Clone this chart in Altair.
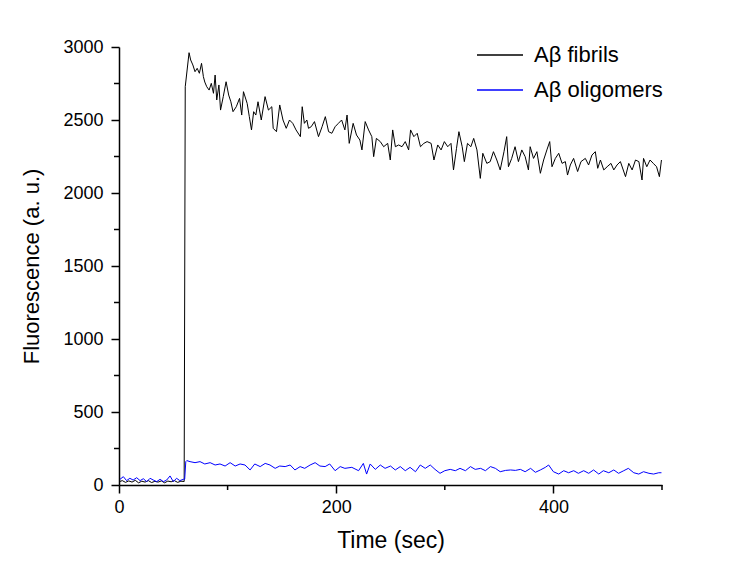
import altair as alt
import pandas as pd

# ---- data ----
fib_t = [0, 3, 6, 9, 12, 15, 18, 21, 24, 27, 30, 33, 36, 39, 42, 45, 48, 51, 54, 57, 60,
         61, 64.5, 66, 68, 70, 72, 74, 76, 77.7, 79, 80.8, 83, 85, 87, 88.5, 90, 92, 93.5,
         96, 98.6, 101, 103, 105, 108, 111, 113, 114.6, 118, 120, 122, 124, 126, 128, 131,
         134.5, 137.6, 140.7, 142, 145, 148, 151, 154, 157, 160, 163, 167, 168.7, 170.7,
         173, 174.5, 177, 180, 183.7, 187, 190, 193, 196, 199, 202, 205, 208, 210, 212,
         215.6, 218.7, 221.8, 223.7, 226.7, 229.8, 232.8, 234.5, 237, 240.6, 243.7, 247.4,
         249.8, 252, 254.5, 257.5, 260.6, 263.6, 266.7, 268.5, 271.5, 274.6, 277.6, 280.7,
         283.7, 287.4, 290, 293.5, 296.6, 299.6, 302.7, 305.7, 308, 310.8, 313, 316, 318,
         320.9, 324, 326.6, 329.6, 332.7, 335, 338.7, 341.8, 344.8, 347.9, 351, 354.5, 357,
         358.6, 361.6, 364.7, 367.8, 370.9, 374, 377, 378.6, 381.7, 384.8, 388, 391, 394,
         396.6, 398.7, 401.8, 404.9, 408, 411, 413, 415.6, 418.6, 422.3, 425.4, 429.4,
         432.4, 435.5, 438.6, 440.8, 443.3, 446.4, 449.5, 453, 455.6, 458.6, 461.7, 466.4,
         469.4, 472.5, 475.6, 478.7, 481.6, 483, 486, 489, 492, 495, 497.6, 499.5]
fib_v = [22, 30, 18, 28, 20, 32, 15, 26, 20, 30, 17, 25, 20, 28, 15, 27, 22, 30, 18, 26, 24,
         2728, 2961, 2911, 2877, 2831, 2854, 2820, 2888, 2797, 2760, 2728, 2705, 2751, 2683,
         2808, 2637, 2740, 2568, 2660, 2762, 2671, 2625, 2557, 2591, 2648, 2534, 2694, 2614,
         2523, 2432, 2557, 2534, 2625, 2500, 2660, 2568, 2591, 2443, 2420, 2603, 2500, 2443,
         2500, 2477, 2432, 2386, 2591, 2477, 2500, 2443, 2454, 2489, 2386, 2454, 2523, 2420,
         2409, 2454, 2477, 2500, 2432, 2534, 2340, 2477, 2397, 2363, 2295, 2489, 2432, 2386,
         2249, 2374, 2352, 2317, 2340, 2226, 2432, 2317, 2329, 2317, 2352, 2295, 2432, 2386,
         2409, 2317, 2340, 2352, 2340, 2226, 2329, 2295, 2352, 2317, 2340, 2158, 2306, 2420,
         2317, 2215, 2340, 2317, 2374, 2295, 2100, 2272, 2203, 2215, 2283, 2226, 2158, 2283,
         2386, 2180, 2237, 2317, 2215, 2295, 2249, 2158, 2317, 2237, 2283, 2135, 2226, 2295,
         2352, 2180, 2237, 2272, 2203, 2215, 2123, 2192, 2237, 2147, 2215, 2237, 2192, 2260,
         2283, 2169, 2226, 2158, 2180, 2203, 2158, 2192, 2215, 2112, 2203, 2158, 2226, 2215,
         2089, 2237, 2180, 2226, 2203, 2180, 2112, 2226]

oli_t = [0.9, 4, 7, 10, 13, 16.3, 19.4, 22.4, 25.5, 28.6, 31.6, 34.7, 37.8, 40.9, 43.9, 47,
         50, 53, 56, 59.3, 60.5, 61.5, 62.4, 65.4, 70, 74.6, 79, 83.9, 88.5, 93, 97.7, 102.3,
         107, 111.5, 116, 120.7, 125, 130, 134.6, 139, 143.8, 148, 153, 157.6, 162, 166.8,
         171, 176, 180.6, 185, 189.8, 194, 199, 203.7, 208, 214.4, 220.6, 225, 228, 231.3,
         236, 240.6, 245, 250, 254.4, 259, 263.6, 268, 273, 277.4, 282, 286.6, 291, 295.6,
         300, 305, 309.7, 314, 319, 323.6, 328, 333, 337.4, 342, 346.6, 351, 356, 360.6, 365,
         369.6, 374, 379, 383.4, 388, 392.6, 395.6, 400, 404.9, 409.5, 414, 418.7, 423,
         427.9, 432.5, 437, 441.8, 446, 451, 455.6, 460, 464.8, 469, 474, 478.6, 483, 488,
         492.3, 497, 499.5]
oli_v = [39, 57, 30, 46, 34, 50, 30, 43, 23, 46, 34, 23, 39, 23, 34, 62, 23, 46, 30, 39, 40,
         160, 167, 160, 153, 160, 144, 153, 137, 144, 130, 153, 130, 144, 137, 103, 144, 126,
         148, 137, 114, 130, 126, 137, 103, 126, 114, 137, 153, 130, 126, 144, 98, 126, 114,
         121, 98, 148, 75, 144, 107, 137, 114, 130, 103, 126, 98, 121, 91, 137, 114, 137,
         107, 80, 98, 107, 98, 114, 98, 126, 107, 114, 98, 126, 114, 91, 100, 103, 100, 107,
         91, 114, 87, 103, 121, 137, 91, 75, 98, 84, 98, 80, 98, 80, 103, 75, 98, 84, 103,
         80, 98, 114, 84, 75, 91, 80, 75, 84, 84]

series_names = ["A\u03b2 fibrils", "A\u03b2 oligomers"]
series_colors = ["#000000", "#0000ff"]

y_major = [0, 500, 1000, 1500, 2000, 2500, 3000]
y_minor = [250, 750, 1250, 1750, 2250, 2750]
x_major = [0, 200, 400]
x_minor = [100, 300, 500]

FONT = "Liberation Sans"
W, H = 543, 438

df = pd.concat([
    pd.DataFrame({"t": fib_t, "v": fib_v, "s": series_names[0]}),
    pd.DataFrame({"t": oli_t, "v": oli_v, "s": series_names[1]}),
])

xs = alt.Scale(domain=[0, 500], nice=False, zero=False)
ys = alt.Scale(domain=[0, 3000], nice=False, zero=False)

lines = alt.Chart(df).mark_line(strokeWidth=1, clip=True).encode(
    x=alt.X("t:Q", scale=xs,
            axis=alt.Axis(values=x_major, title="Time (sec)", format="d",
                          titlePadding=13, labelFlush=False, labelPadding=5)),
    y=alt.Y("v:Q", scale=ys,
            axis=alt.Axis(values=y_major, title="Fluorescence (a. u.)", format="d",
                          titlePadding=19, labelPadding=8, titleFontSize=22)),
    color=alt.Color("s:N", scale=alt.Scale(domain=series_names, range=series_colors),
                    legend=alt.Legend(title=None, orient="none", legendX=357, legendY=-16,
                                      symbolSize=2116, labelFontSize=22,
                                      labelFont=FONT, labelColor="black",
                                      labelOffset=10, rowPadding=-14, padding=0)),
)

ymin_df = pd.DataFrame({"v": y_minor})
xmin_df = pd.DataFrame({"t": x_minor})

ytick = alt.Chart(ymin_df).mark_rule(strokeWidth=1.5).encode(
    y=alt.Y("v:Q", scale=ys), x=alt.value(-5), x2=alt.value(0))
xtick = alt.Chart(xmin_df).mark_rule(strokeWidth=1.5).encode(
    x=alt.X("t:Q", scale=xs), y=alt.value(H), y2=alt.value(H + 5))

chart = alt.layer(lines, ytick, xtick).properties(
    width=W, height=H,
    autosize=alt.AutoSizeParams(type="none"),
    padding={"left": 111, "top": 39, "right": 60, "bottom": 70},
).configure_view(stroke=None).configure_rule(color="black").configure_axis(
    grid=False, domainColor="black", domainWidth=1.5, tickColor="black",
    tickWidth=1.5, tickSize=8, labelFont=FONT, labelFontSize=18, labelColor="black",
    titleFont=FONT, titleFontSize=23, titleColor="black", titleFontWeight="normal",
)

chart.save("out.html", embed_options={"renderer": "svg", "actions": False})
